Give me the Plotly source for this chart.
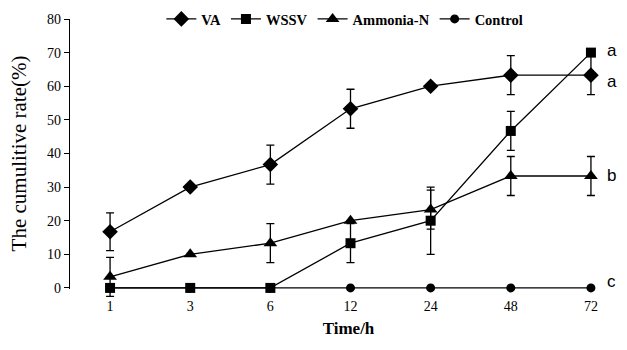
import plotly.graph_objects as go

times = ["1", "3", "6", "12", "24", "48", "72"]

va = [16.7, 30.0, 36.7, 53.3, 60.0, 63.3, 63.3]
va_err = [5.6, 0, 5.8, 5.8, 0, 5.8, 5.8]

wssv = [0.0, 0.0, 0.0, 13.3, 20.0, 46.7, 70.0]
wssv_err = [0, 0, 0, 5.8, 10.0, 5.8, 0]

ammonia = [3.3, 10.0, 13.3, 20.0, 23.3, 33.3, 33.3]
ammonia_err = [5.8, 0, 5.8, 0, 5.8, 5.8, 5.8]

control = [0, 0, 0, 0, 0, 0, 0]
control_err = [0, 0, 0, 0, 0, 0, 0]

sig_letters = ["a", "a", "b", "c"]
sig_y = [70.5, 61.5, 33.3, 1.8]

y_min, y_max = 0, 80
y_below = -3  # room under the axis for error bars that dip below zero

series = [
    ("VA", va, va_err, "diamond", 12),
    ("WSSV", wssv, wssv_err, "square", 10),
    ("Ammonia-N", ammonia, ammonia_err, "triangle-up", 12),
    ("Control", control, control_err, "circle", 9),
]

fig = go.Figure()

# empty trace on the visible axes (x / y) so they are drawn
fig.add_trace(go.Scatter(x=[], y=[], xaxis="x", yaxis="y", showlegend=False,
                         hoverinfo="skip"))

for name, vals, errs, sym, sz in series:
    fig.add_trace(go.Scatter(
        x=times, y=vals, name=name, mode="lines+markers",
        xaxis="x2", yaxis="y2",
        line=dict(color="black", width=1.3),
        marker=dict(symbol=sym, size=sz, color="black"),
        error_y=dict(type="data", array=errs, visible=True,
                     color="black", thickness=1.3, width=4),
        cliponaxis=False,
    ))

for letter, yv in zip(sig_letters, sig_y):
    fig.add_annotation(x=6.17, y=yv, xref="x2", yref="y2", text=letter,
                       showarrow=False, xanchor="left", yanchor="middle",
                       font=dict(family="Liberation Sans, Arial", size=17, color="black"))

serif = "Liberation Serif, Times New Roman, serif"
frac = (y_min - y_below) / (y_max - y_below)
xr = [-0.5, 6.45]
fig.update_layout(
    width=627, height=350,
    margin=dict(l=70, r=0, t=19, b=52),
    plot_bgcolor="white", paper_bgcolor="white",
    font=dict(family=serif, color="black"),
    showlegend=True,
    legend=dict(orientation="h", x=0.164, y=1.0, xanchor="left", yanchor="middle",
                font=dict(family=serif, size=14.5, weight="bold"),
                bgcolor="rgba(0,0,0,0)", itemwidth=30, tracegroupgap=0),
    xaxis=dict(type="category", categoryorder="array", categoryarray=times,
               range=xr, anchor="y", showline=True,
               linecolor="black", linewidth=1.3, ticks="inside", ticklen=4,
               tickcolor="black", tickson="boundaries", showgrid=False, zeroline=False,
               tickfont=dict(family=serif, size=14), ticklabelstandoff=5,
               title=dict(text="Time/h", font=dict(family=serif, size=17, weight="bold"),
                          standoff=9)),
    yaxis=dict(range=[y_min, y_max], domain=[frac, 1], anchor="x", dtick=10,
               showline=True, linecolor="black", linewidth=1.3,
               ticks="outside", ticklen=5, tickcolor="black", showgrid=False,
               zeroline=False, tickfont=dict(family=serif, size=14),
               title=dict(text="The cumulitive rate(%)", font=dict(family=serif, size=21),
                          standoff=14)),
    xaxis2=dict(type="category", categoryorder="array", categoryarray=times,
                range=xr, anchor="y2", visible=False, showgrid=False, zeroline=False),
    yaxis2=dict(range=[y_below, y_max], domain=[0, 1], anchor="x2", visible=False,
                showgrid=False, zeroline=False),
)

fig.write_html("out.html")
